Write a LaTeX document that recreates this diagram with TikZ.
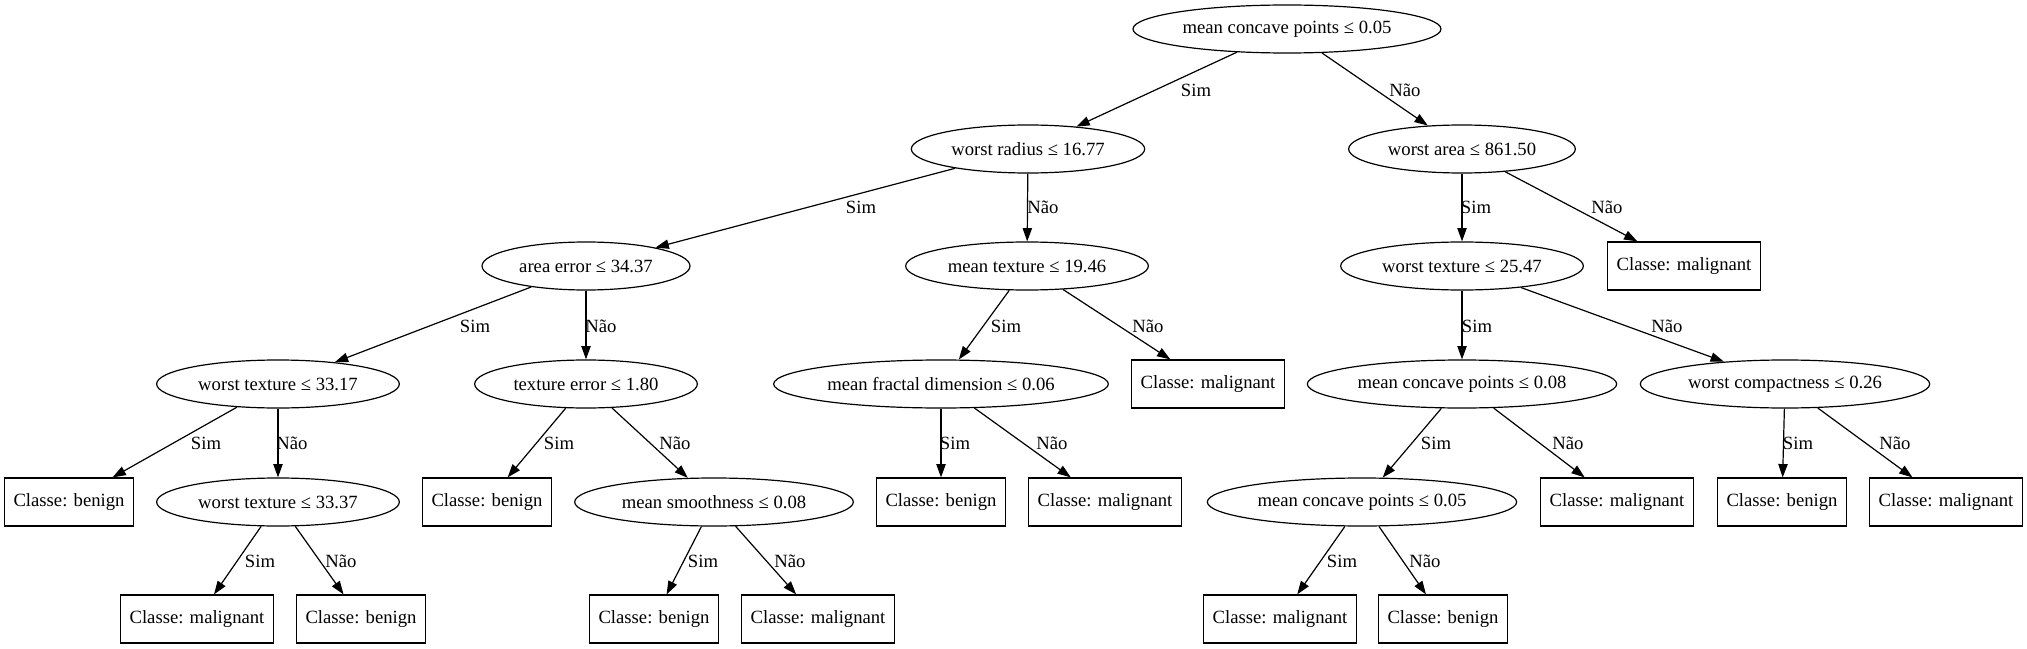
\documentclass[tikz,border=0pt]{standalone}
\usepackage{fontspec}
\setmainfont{Liberation Serif}
\usetikzlibrary{shapes.geometric,arrows.meta}
\tikzset{
  base/.style={draw, line width=0.9pt, font=\fontsize{14pt}{16pt}\selectfont, minimum height=36pt},
  ell/.style={base, ellipse, inner xsep=2pt, inner ysep=2pt, minimum width=#1},
  leaf/.style={base, rectangle, inner xsep=7pt, inner ysep=2pt},
  edge/.style={line width=0.9pt, -{Triangle[length=10pt,width=7pt]}},
  lab/.style={inner sep=0pt, font=\fontsize{14pt}{16pt}\selectfont}
}
\begin{document}
\begin{tikzpicture}[x=0.75pt,y=-0.75pt]
\useasboundingbox (0,0) rectangle (2027,649);
% row 0
\node[ell=231pt] (n0) at (1287,29) {mean concave points ≤ 0.05};
% row 1
\node[ell=175pt] (n1) at (1028,149) {worst radius ≤ 16.77};
\node[ell=170pt] (n2) at (1462,149) {worst area ≤ 861.50};
% row 2
\node[ell=156pt] (n3) at (586,266) {area error ≤ 34.37};
\node[ell=182pt] (n4) at (1027,266) {mean texture ≤ 19.46};
\node[ell=182pt] (n5) at (1462,266) {worst texture ≤ 25.47};
\node[leaf] (b6) at (1684,266) {Classe: malignant};
% row 3
\node[ell=182pt] (n7) at (278,384) {worst texture ≤ 33.17};
\node[ell=167pt] (n8) at (586,384) {texture error ≤ 1.80};
\node[ell=251pt] (n9) at (941,384) {mean fractal dimension ≤ 0.06};
\node[leaf] (b10) at (1208,384) {Classe: malignant};
\node[ell=232pt] (n11) at (1462,384) {mean concave points ≤ 0.08};
\node[ell=217pt] (n12) at (1785,384) {worst compactness ≤ 0.26};
% row 4
\node[leaf] (b13) at (69,502) {Classe: benign};
\node[ell=182pt] (n14) at (278,502) {worst texture ≤ 33.37};
\node[leaf] (b15) at (487,502) {Classe: benign};
\node[ell=209pt] (n16) at (714,502) {mean smoothness ≤ 0.08};
\node[leaf] (b17) at (941,502) {Classe: benign};
\node[leaf] (b18) at (1105,502) {Classe: malignant};
\node[ell=232pt] (n19) at (1362,502) {mean concave points ≤ 0.05};
\node[leaf] (b20) at (1617,502) {Classe: malignant};
\node[leaf] (b21) at (1782,502) {Classe: benign};
\node[leaf] (b22) at (1946,502) {Classe: malignant};
% row 5
\node[leaf] (b23) at (197,619) {Classe: malignant};
\node[leaf] (b24) at (361,619) {Classe: benign};
\node[leaf] (b25) at (654,619) {Classe: benign};
\node[leaf] (b26) at (818,619) {Classe: malignant};
\node[leaf] (b27) at (1280,619) {Classe: malignant};
\node[leaf] (b28) at (1443,619) {Classe: benign};
% edges
\draw[edge] (n0) -- (n1);
\draw[edge] (n0) -- (n2);
\draw[edge] (n1) -- (n3);
\draw[edge] (n1) -- (n4);
\draw[edge] (n2) -- (n5);
\draw[edge] (n2) -- (b6);
\draw[edge] (n3) -- (n7);
\draw[edge] (n3) -- (n8);
\draw[edge] (n4) -- (n9);
\draw[edge] (n4) -- (b10);
\draw[edge] (n5) -- (n11);
\draw[edge] (n5) -- (n12);
\draw[edge] (n7) -- (b13);
\draw[edge] (n7) -- (n14);
\draw[edge] (n8) -- (b15);
\draw[edge] (n8) -- (n16);
\draw[edge] (n9) -- (b17);
\draw[edge] (n9) -- (b18);
\draw[edge] (n11) -- (n19);
\draw[edge] (n11) -- (b20);
\draw[edge] (n12) -- (b21);
\draw[edge] (n12) -- (b22);
\draw[edge] (n14) -- (b23);
\draw[edge] (n14) -- (b24);
\draw[edge] (n16) -- (b25);
\draw[edge] (n16) -- (b26);
\draw[edge] (n19) -- (b27);
\draw[edge] (n19) -- (b28);
% edge labels
\node[lab] (l1) at (1196,90) {Sim};
\node[lab] (l2) at (1405,90) {Não};
\node[lab] (l3) at (861,207) {Sim};
\node[lab] (l4) at (1043,207) {Não};
\node[lab] (l5) at (1476,207) {Sim};
\node[lab] (l6) at (1607,207) {Não};
\node[lab] (l7) at (475,326) {Sim};
\node[lab] (l8) at (601,326) {Não};
\node[lab] (l9) at (1006,326) {Sim};
\node[lab] (l10) at (1148,326) {Não};
\node[lab] (l11) at (1477,326) {Sim};
\node[lab] (l12) at (1667,326) {Não};
\node[lab] (l13) at (206,443) {Sim};
\node[lab] (l14) at (292,443) {Não};
\node[lab] (l15) at (559,443) {Sim};
\node[lab] (l16) at (675,443) {Não};
\node[lab] (l17) at (955,443) {Sim};
\node[lab] (l18) at (1052,443) {Não};
\node[lab] (l19) at (1436,443) {Sim};
\node[lab] (l20) at (1568,443) {Não};
\node[lab] (l21) at (1798,443) {Sim};
\node[lab] (l22) at (1895,443) {Não};
\node[lab] (l23) at (260,561) {Sim};
\node[lab] (l24) at (341,561) {Não};
\node[lab] (l25) at (703,561) {Sim};
\node[lab] (l26) at (790,561) {Não};
\node[lab] (l27) at (1342,561) {Sim};
\node[lab] (l28) at (1425,561) {Não};
\end{tikzpicture}
\end{document}
